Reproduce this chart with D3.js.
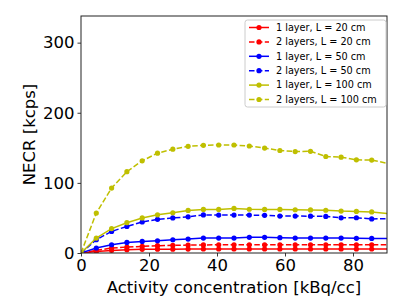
<!DOCTYPE html>
<html>
<head>
<meta charset="utf-8">
<script src="https://cdn.jsdelivr.net/npm/d3@7"></script>
<style>
  body { margin: 0; background: #ffffff; }
  svg { display: block; font-family: "DejaVu Sans", sans-serif; }
</style>
</head>
<body>
<div id="chart"></div>
<script>

// --- Daten ------------------------------------------------------------------------------------------ //

var activity = [0, 4.5, 9, 13.5, 18, 22.5, 27, 31.5, 36, 40.5, 45, 49.5, 54, 58.5, 63, 67.5, 72, 76.5, 81, 85.5, 94.5];

var necr1L20  = [0, 2.3, 3.7, 4.7, 5.2, 5.4, 5.5, 5.6, 5.7, 5.7, 5.7, 5.7, 5.7, 5.7, 5.7, 5.7, 5.7, 5.7, 5.7, 5.7, 5.7];
var necr2L20  = [0, 3.7, 7.1, 8.5, 9.5, 10.4, 10.9, 11.3, 11.5, 11.8, 11.8, 11.8, 11.8, 11.8, 11.8, 11.8, 11.8, 11.8, 11.8, 11.8, 11.8];
var necr1L50  = [0, 7.1, 11.8, 15.1, 16.5, 17.5, 18.9, 19.9, 21.3, 21.3, 21.3, 22.3, 22.3, 21.8, 21.3, 21.3, 21.3, 21.3, 21.0, 20.8, 20.8];
var necr2L50  = [0, 19.0, 30.8, 37.9, 44.2, 48.0, 50.0, 51.6, 54.3, 54.1, 54.1, 54.1, 53.8, 52.6, 52.7, 52.5, 52.2, 50.1, 50.3, 48.6, 49.0];
var necr1L100 = [0, 21.3, 34.8, 43.2, 50.0, 54.5, 57.4, 60.7, 62.1, 62.1, 63.5, 62.4, 62.1, 62.1, 61.7, 61.5, 61.0, 59.8, 59.3, 58.6, 53.8];
var necr2L100 = [0, 57.0, 92.6, 116.0, 131.5, 142.4, 148.0, 152.2, 153.6, 154.0, 154.0, 152.6, 149.6, 146.2, 144.7, 145.0, 137.6, 136.7, 132.9, 132.5, 123.5];

var seriesNames = ['1 layer, L = 20 cm', '2 layers, L = 20 cm', '1 layer, L = 50 cm',
                   '2 layers, L = 50 cm', '1 layer, L = 100 cm', '2 layers, L = 100 cm'];
var seriesValues = [necr1L20, necr2L20, necr1L50, necr2L50, necr1L100, necr2L100];
var seriesColors = ['#ff0000', '#ff0000', '#0000ff', '#0000ff', '#bfbf00', '#bfbf00'];
var seriesDashed = [false, true, false, true, false, true];

var xTicks = [0, 20, 40, 60, 80];
var yTicks = [0, 100, 200, 300];


// --- Diagramm ------------------------------------------------------------------------------------------ //

var width = 407, height = 305;
var margin = {top: 16, right: 20, bottom: 52, left: 81};
var plotW = width - margin.left - margin.right;
var plotH = height - margin.top - margin.bottom;

var svg = d3.select('#chart').append('svg')
    .attr('width', width)
    .attr('height', height);

var x = d3.scaleLinear().domain([0, 90]).range([0, plotW]);
var y = d3.scaleLinear().domain([0, 338]).range([plotH, 0]);

svg.append('defs').append('clipPath')
    .attr('id', 'plotclip')
    .append('rect')
    .attr('x', 0).attr('y', 0)
    .attr('width', plotW).attr('height', plotH);

var g = svg.append('g')
    .attr('transform', 'translate(' + margin.left + ',' + margin.top + ')');

var plot = g.append('g').attr('clip-path', 'url(#plotclip)');

var line = d3.line()
    .x(function (d, i) { return x(activity[i]); })
    .y(function (d) { return y(d); });

for (var s = 0; s < seriesValues.length; s++) {

    plot.append('path')
        .datum(seriesValues[s])
        .attr('fill', 'none')
        .attr('stroke', seriesColors[s])
        .attr('stroke-width', 1.5)
        .attr('stroke-dasharray', seriesDashed[s] ? '5.5,2.4' : null)
        .attr('d', line);

    plot.selectAll('.pt' + s)
        .data(seriesValues[s])
        .enter().append('circle')
        .attr('class', 'pt' + s)
        .attr('cx', function (d, i) { return x(activity[i]); })
        .attr('cy', function (d) { return y(d); })
        .attr('r', 2.6)
        .attr('fill', seriesColors[s]);
}

// Achsen
var xAxis = g.append('g')
    .attr('transform', 'translate(0,' + plotH + ')')
    .call(d3.axisBottom(x).tickValues(xTicks).tickSize(3.5).tickPadding(3).tickFormat(d3.format('d')));

var yAxis = g.append('g')
    .call(d3.axisLeft(y).tickValues(yTicks).tickSize(3.5).tickPadding(3).tickFormat(d3.format('d')));

[xAxis, yAxis].forEach(function (ax) {
    ax.select('.domain').remove();
    ax.selectAll('line').attr('stroke', '#222222').attr('stroke-width', 0.9);
    ax.selectAll('text')
        .attr('fill', '#000000')
        .style('font-size', '16.5px')
        .style('font-family', '"DejaVu Sans", sans-serif');
});

// Rahmen
g.append('rect')
    .attr('x', 0).attr('y', 0)
    .attr('width', plotW).attr('height', plotH)
    .attr('fill', 'none')
    .attr('stroke', '#222222')
    .attr('stroke-width', 1);

// Achsenbeschriftung
svg.append('text')
    .attr('x', margin.left + plotW / 2)
    .attr('y', 293)
    .attr('text-anchor', 'middle')
    .style('font-size', '16.5px')
    .text('Activity concentration [kBq/cc]');

svg.append('text')
    .attr('transform', 'translate(35,' + (margin.top + plotH / 2) + ') rotate(-90)')
    .attr('text-anchor', 'middle')
    .style('font-size', '16.5px')
    .text('NECR [kcps]');


// --- Legende ------------------------------------------------------------------------------------------ //

var legend = svg.append('g').attr('transform', 'translate(245,20)');

legend.append('rect')
    .attr('width', 141).attr('height', 87)
    .attr('rx', 2.5)
    .attr('fill', '#ffffff')
    .attr('fill-opacity', 0.8)
    .attr('stroke', '#cccccc')
    .attr('stroke-width', 1);

for (var k = 0; k < seriesNames.length; k++) {

    var ly = 7.5 + k * 14.4;

    legend.append('line')
        .attr('x1', 4).attr('x2', 24)
        .attr('y1', ly).attr('y2', ly)
        .attr('stroke', seriesColors[k])
        .attr('stroke-width', 1.5)
        .attr('stroke-dasharray', seriesDashed[k] ? '5.5,2.4' : null);

    legend.append('circle')
        .attr('cx', 14).attr('cy', ly)
        .attr('r', 2.6)
        .attr('fill', seriesColors[k]);

    legend.append('text')
        .attr('x', 31)
        .attr('y', ly)
        .attr('dy', '0.35em')
        .style('font-size', '9.7px')
        .text(seriesNames[k]);
}

</script>
</body>
</html>
